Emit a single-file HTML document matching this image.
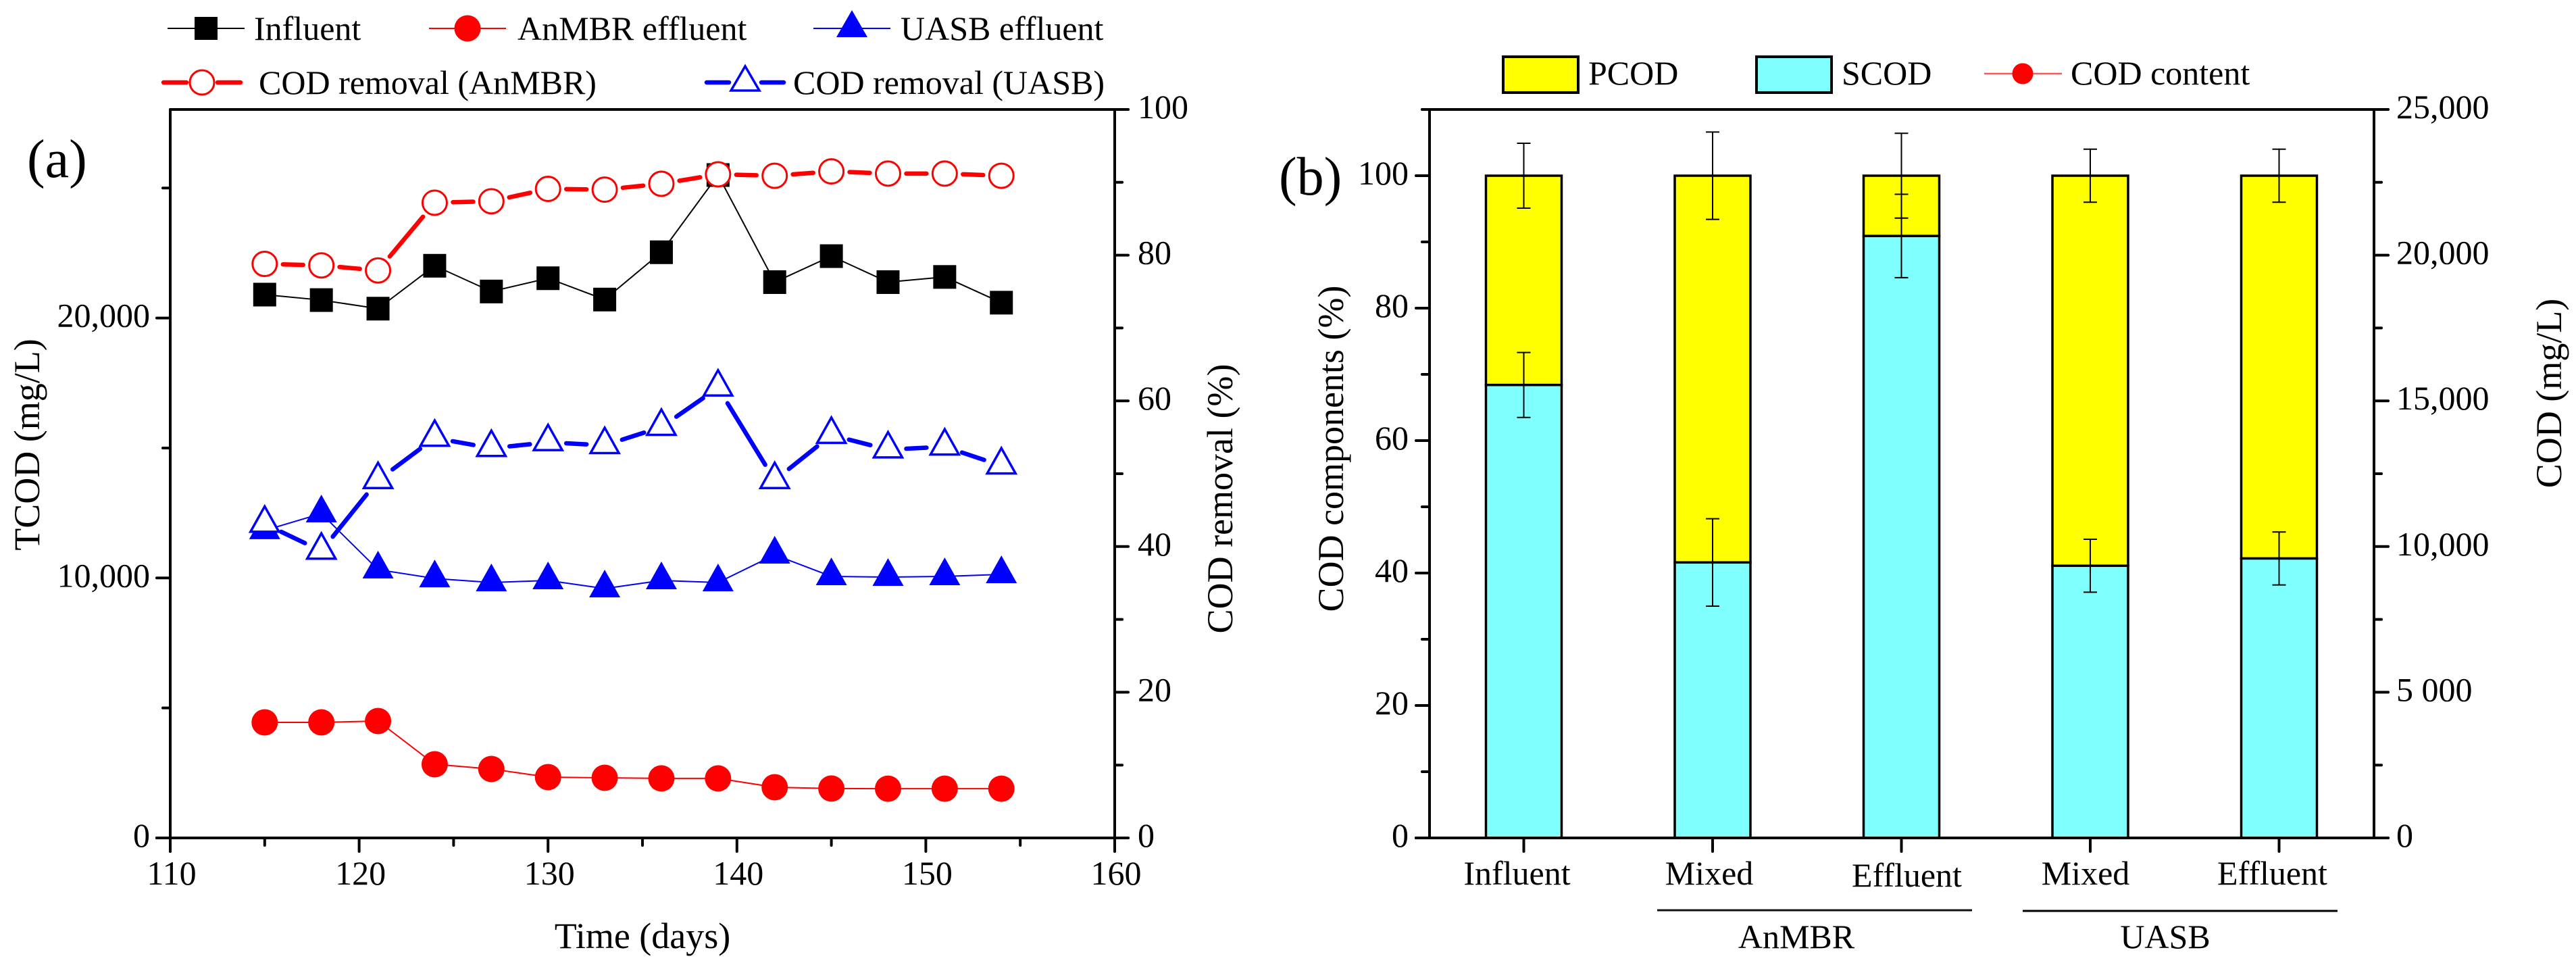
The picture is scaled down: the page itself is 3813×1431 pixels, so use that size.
<!DOCTYPE html>
<html lang="en">
<head>
<meta charset="utf-8">
<title>COD charts</title>
<style>
html,body{margin:0;padding:0;background:#fff;}
svg{display:block;}
text{font-family:"Liberation Serif",serif;fill:#000;}
</style>
</head>
<body>
<svg id="fig" xmlns="http://www.w3.org/2000/svg" width="3813" height="1431" viewBox="0 0 3813 1431">
  <rect x="0" y="0" width="3813" height="1431" fill="#fff"/>

  <g id="panelA"></g>
  <g id="panelB"></g>

  <text x="40" y="262" font-size="80">(a)</text>
  <text x="1893" y="288" font-size="80">(b)</text>

  <text x="951" y="1403" font-size="54" text-anchor="middle">Time (days)</text>
  <text transform="translate(58 658) rotate(-90)" font-size="54" text-anchor="middle">TCOD (mg/L)</text>
  <text transform="translate(1824 738) rotate(-90)" font-size="54" text-anchor="middle">COD removal (%)</text>
  <text transform="translate(1988 664) rotate(-90)" font-size="54" text-anchor="middle">COD components (%)</text>
  <text transform="translate(3791 582) rotate(-90)" font-size="54" text-anchor="middle">COD (mg/L)</text>

  <g>
    <g>
      <line x1="248" y1="42" x2="362" y2="42" stroke="#000" stroke-width="2"/>
      <rect x="288" y="25" width="34" height="34" fill="#000"/>
      <text x="376" y="59" font-size="50">Influent</text>
    </g>
    <g>
      <line x1="635" y1="42" x2="749" y2="42" stroke="#f00" stroke-width="2"/>
      <circle cx="692" cy="42" r="19.5" fill="#f00"/>
      <text x="766" y="59" font-size="50">AnMBR effluent</text>
    </g>
    <g>
      <line x1="1204" y1="42" x2="1318" y2="42" stroke="#00f" stroke-width="2"/>
      <polygon points="1261,15 1284,55 1238,55" fill="#00f"/>
      <text x="1333" y="59" font-size="50">UASB effluent</text>
    </g>
    <g>
      <line x1="242" y1="122" x2="276" y2="122" stroke="#f00" stroke-width="6.5" stroke-linecap="round"/>
      <line x1="322" y1="122" x2="356" y2="122" stroke="#f00" stroke-width="6.5" stroke-linecap="round"/>
      <circle cx="299" cy="122" r="18" fill="#fff" stroke="#f00" stroke-width="3"/>
      <text x="383" y="139" font-size="50">COD removal (AnMBR)</text>
    </g>
    <g>
      <line x1="1046" y1="122" x2="1079" y2="122" stroke="#00f" stroke-width="6.5" stroke-linecap="round"/>
      <line x1="1127" y1="122" x2="1160" y2="122" stroke="#00f" stroke-width="6.5" stroke-linecap="round"/>
      <polygon points="1103,98 1124,134 1082,134" fill="#fff" stroke="#00f" stroke-width="3.5"/>
      <text x="1174" y="139" font-size="50">COD removal (UASB)</text>
    </g>
  </g>

  <g>
    <g>
      <rect x="2225" y="84" width="111" height="53" fill="#ff0" stroke="#000" stroke-width="4"/>
      <text x="2351" y="125" font-size="50">PCOD</text>
    </g>
    <g>
      <rect x="2600" y="84" width="111" height="53" fill="#80ffff" stroke="#000" stroke-width="4"/>
      <text x="2726" y="125" font-size="50">SCOD</text>
    </g>
    <g>
      <line x1="2937" y1="109" x2="3052" y2="109" stroke="#f55" stroke-width="2.5"/>
      <circle cx="2994" cy="109" r="15.5" fill="#f00"/>
      <text x="3065" y="125" font-size="50">COD content</text>
    </g>
  </g>

  <g>
    <line x1="2453" y1="1347" x2="2919" y2="1347" stroke="#111" stroke-width="3"/>
    <line x1="2994" y1="1348" x2="3460" y2="1348" stroke="#000" stroke-width="3"/>
    <text x="2659" y="1403" font-size="50" text-anchor="middle">AnMBR</text>
    <text x="3205" y="1403" font-size="50" text-anchor="middle">UASB</text>
  </g>
</svg>

<script>
/* ---- panel (a) data ---- */
const days = [115,118,121,124,127,130,133,136,139,142,145,148,151,154];
const influent = [20900,20690,20360,22010,21020,21530,20710,22530,25500,21380,22380,21380,21580,20590];
const anmbrEffluent = [4445,4445,4497,2833,2652,2340,2313,2290,2290,1950,1900,1895,1895,1895];
const uasbEffluent = [11830,12477,10320,9980,9825,9904,9592,9904,9825,10890,10060,10034,10060,10138];
const removalAnmbr = [78.8,78.6,77.9,87.2,87.4,89.1,89.0,89.8,91.1,90.9,91.5,91.2,91.2,90.9];
const removalUasb = [43.1,39.4,49.1,54.9,53.5,54.3,53.9,56.4,61.8,49.1,55.3,53.3,53.7,51.1];
const xTicksA = [110,120,130,140,150,160];
const xMinorA = [115,125,135,145,155];
const yLeftTicksA = [0,10000,20000];
const yLeftLabelsA = ["0","10,000","20,000"];
const yLeftMinorA = [5000,15000,25000];
const yRightTicksA = [0,20,40,60,80,100];
const yRightMinorA = [10,30,50,70,90];

/* ---- panel (b) data ---- */
const categories = ["Influent","Mixed","Effluent","Mixed","Effluent"];
const scod = [68.4,41.6,90.9,41.1,42.2];
const total = [100,100,100,100,100];
const scodError = [4.9,6.6,6.3,4.0,4.0];
const totalError = [4.9,6.6,6.4,4.0,4.0];
const yLeftTicksB = [0,20,40,60,80,100];
const yLeftMinorB = [10,30,50,70,90,110];
const yRightTicksB = [0,5000,10000,15000,20000,25000];
const yRightLabelsB = ["0","5 000","10,000","15,000","20,000","25,000"];
const yRightMinorB = [2500,7500,12500,17500,22500];

/* ---- axis functions ---- */
const AY0 = 1240, AY1 = 162;
const xA = d => 252 + (d - 110) * (1650 - 252) / 50;
const yTcod = v => AY0 - v * 384.7 / 10000;
const yRem = v => AY0 - v * (AY0 - AY1) / 100;
const xB = i => 2255.5 + i * 279.5;
const yPct = v => AY0 - v * 9.8;
const yCod = v => AY0 - v * (AY0 - AY1) / 25000;

const NS = "http://www.w3.org/2000/svg";
function mk(tag, attrs, parent) {
  const n = document.createElementNS(NS, tag);
  for (const k in attrs) n.setAttribute(k, attrs[k]);
  parent.appendChild(n);
  return n;
}
function tickLine(parent, x1, y1, x2, y2) {
  const t = mk("line", {x1:x1, y1:y1, x2:x2, y2:y2, stroke:"#000", "stroke-width":4, "stroke-linecap":"round"}, parent);
  
  
  return t;
}
function tickLabel(parent, x, y, anchor, str) {
  const t = mk("text", {x:x, y:y, "font-size":50, "text-anchor":anchor}, parent);
  t.textContent = str;
  
  
  return t;
}
function axisLine(parent, x1, y1, x2, y2) {
  const l = mk("line", {x1:x1, y1:y1, x2:x2, y2:y2, stroke:"#000", "stroke-width":4, "stroke-linecap":"round"}, parent);
  
  
  return l;
}
function seriesPoints(xs, ys) {
  return xs.map((x, i) => x + "," + ys[i]).join(" ");
}
function triPoints(cx, cy, up, down, half) {
  return cx + "," + (cy - up) + " " + (cx + half) + "," + (cy + down) + " " + (cx - half) + "," + (cy + down);
}
function gappedLine(parent, xs, ys, color, gap) {
  for (let i = 0; i < xs.length - 1; i++) {
    const dx = xs[i+1] - xs[i], dy = ys[i+1] - ys[i];
    const len = Math.sqrt(dx*dx + dy*dy);
    if (len <= gap * 2) continue;
    const ux = dx / len, uy = dy / len;
    const s = mk("line", {x1:xs[i]+ux*gap, y1:ys[i]+uy*gap, x2:xs[i+1]-ux*gap, y2:ys[i+1]-uy*gap,
      stroke:color, "stroke-width":6.5, "stroke-linecap":"round"}, parent);
    
    
  }
}

/* ---- draw panel (a) ---- */
const pa = document.getElementById("panelA");
axisLine(pa, 252, AY1, 252, 1260);
axisLine(pa, 1650, AY1, 1650, 1260);
axisLine(pa, 252, AY1, 1670, AY1);
axisLine(pa, 232, AY0, 1670, AY0);
xTicksA.forEach(v => { tickLine(pa, xA(v), AY0, xA(v), 1260); tickLabel(pa, xA(v) + 2, 1309, "middle", String(v)); });
xMinorA.forEach(v => tickLine(pa, xA(v), AY0, xA(v), 1251));
yLeftTicksA.forEach((v, i) => { tickLine(pa, 232, yTcod(v), 252, yTcod(v)); tickLabel(pa, 222, yTcod(v) + 13, "end", yLeftLabelsA[i]); });
yLeftMinorA.forEach(v => tickLine(pa, 241, yTcod(v), 252, yTcod(v)));
yRightTicksA.forEach(v => { tickLine(pa, 1650, yRem(v), 1670, yRem(v)); tickLabel(pa, 1684, yRem(v) + 13, "start", String(v)); });
yRightMinorA.forEach(v => tickLine(pa, 1650, yRem(v), 1661, yRem(v)));

const xs = days.map(xA);

const gInf = mk("g", {}, pa);


mk("polyline", {points:seriesPoints(xs, influent.map(yTcod)), fill:"none", stroke:"#000", "stroke-width":2}, gInf);
influent.forEach((v, i) => {
  const m = mk("rect", {x:xs[i]-17, y:yTcod(v)-17.5, width:34, height:35, fill:"#000"}, gInf);
  
  
});

const gAn = mk("g", {}, pa);


mk("polyline", {points:seriesPoints(xs, anmbrEffluent.map(yTcod)), fill:"none", stroke:"#f00", "stroke-width":2}, gAn);
anmbrEffluent.forEach((v, i) => {
  const m = mk("circle", {cx:xs[i], cy:yTcod(v), r:19.5, fill:"#f00"}, gAn);
  
  
});

const gUa = mk("g", {}, pa);


mk("polyline", {points:seriesPoints(xs, uasbEffluent.map(yTcod)), fill:"none", stroke:"#00f", "stroke-width":2}, gUa);
uasbEffluent.forEach((v, i) => {
  const m = mk("polygon", {points:triPoints(xs[i], yTcod(v), 28, 13, 23), fill:"#00f"}, gUa);
  
  
});

const gRa = mk("g", {}, pa);


gappedLine(gRa, xs, removalAnmbr.map(yRem), "#f00", 27);
removalAnmbr.forEach((v, i) => {
  const m = mk("circle", {cx:xs[i], cy:yRem(v), r:18, fill:"#fff", stroke:"#f00", "stroke-width":3}, gRa);
  
  
});

const gRu = mk("g", {}, pa);


gappedLine(gRu, xs, removalUasb.map(yRem), "#00f", 27);
removalUasb.forEach((v, i) => {
  const m = mk("polygon", {points:triPoints(xs[i], yRem(v), 26, 11.5, 21), fill:"#fff", stroke:"#00f", "stroke-width":3.5}, gRu);
  
  
});

/* ---- draw panel (b) ---- */
const pb = document.getElementById("panelB");
const barW = 112;
categories.forEach((c, i) => {
  const cx = xB(i);
  const top = mk("rect", {x:cx-barW/2, y:yPct(total[i]), width:barW, height:yPct(scod[i])-yPct(total[i]), fill:"#ff0", stroke:"#000", "stroke-width":3.5}, pb);
  
  
  const bot = mk("rect", {x:cx-barW/2, y:yPct(scod[i]), width:barW, height:yPct(0)-yPct(scod[i]), fill:"#80ffff", stroke:"#000", "stroke-width":3.5}, pb);
  
  
});
function errorBar(cx, v, e) {
  const y1 = yPct(v + e), y2 = yPct(v - e);
  const g = mk("g", {stroke:"#000", "stroke-width":2}, pb);
  
  
  mk("line", {x1:cx, y1:y1, x2:cx, y2:y2}, g);
  mk("line", {x1:cx-10, y1:y1, x2:cx+10, y2:y1}, g);
  mk("line", {x1:cx-10, y1:y2, x2:cx+10, y2:y2}, g);
}
categories.forEach((c, i) => {
  errorBar(xB(i), total[i], totalError[i]);
  errorBar(xB(i), scod[i], scodError[i]);
});
axisLine(pb, 2116, AY1, 2116, AY0);
axisLine(pb, 3514, AY1, 3514, AY0);
axisLine(pb, 2105, AY1, 3535, AY1);
axisLine(pb, 2096, AY0, 3535, AY0);
const catOffset = [-10, -5, 8, -7, -10];
categories.forEach((c, i) => {
  tickLine(pb, xB(i), AY0, xB(i), 1260);
  const t = tickLabel(pb, xB(i) + catOffset[i], i === 2 ? 1312 : 1309, "middle", c);
  
});
yLeftTicksB.forEach(v => { tickLine(pb, 2096, yPct(v), 2116, yPct(v)); tickLabel(pb, 2085, yPct(v) + 13, "end", String(v)); });
yLeftMinorB.forEach(v => tickLine(pb, 2105, yPct(v), 2116, yPct(v)));
yRightTicksB.forEach((v, i) => { tickLine(pb, 3514, yCod(v), 3535, yCod(v)); tickLabel(pb, 3547, yCod(v) + 13, "start", yRightLabelsB[i]); });
yRightMinorB.forEach(v => tickLine(pb, 3514, yCod(v), 3525, yCod(v)));
</script>
</body>
</html>
